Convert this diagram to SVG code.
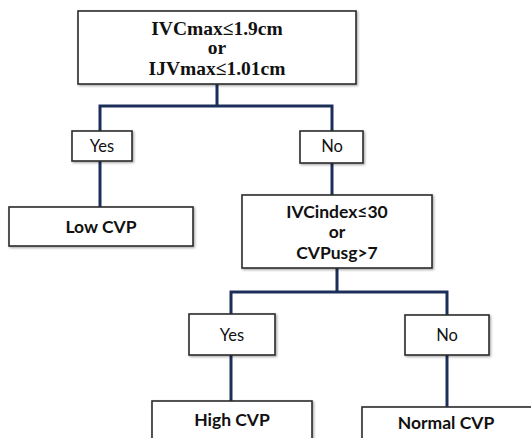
<svg xmlns="http://www.w3.org/2000/svg" width="531" height="438" viewBox="0 0 531 438">
<defs>
<filter id="sh" x="-10%" y="-10%" width="130%" height="140%"><feDropShadow dx="1.2" dy="1.2" stdDeviation="0.8" flood-color="#000" flood-opacity="0.35"/></filter>
<style>
.box{fill:#fff;stroke:#2b2b2b;stroke-width:1.6;filter:url(#sh)}
.ln{fill:none;stroke:#1c2f5a;stroke-width:3;stroke-linejoin:miter}
.ser{font-family:"Liberation Serif",serif;font-weight:bold;font-size:19.5px;fill:#111;text-anchor:middle}
.b{font-family:Lato,"Open Sans",sans-serif;font-weight:bold;font-size:17.5px;fill:#111;text-anchor:middle}
.r{font-family:Lato,"Open Sans",sans-serif;font-size:16.5px;fill:#111;text-anchor:middle}
</style>
</defs>
<rect width="531" height="438" fill="#fff"/>
<g id="connectors">
<path class="ln" d="M217 84V106M100 131V106H332V131"/>
<path class="ln" d="M100 161V207"/>
<path class="ln" d="M332 163V196"/>
<path class="ln" d="M337 268V292M231 314V292H447V315"/>
<path class="ln" d="M231 355V401"/>
<path class="ln" d="M447 355V407"/>
</g>
<g id="n1"><rect class="box" x="78" y="11" width="278" height="73"/>
<text class="ser" x="217" y="35">IVCmax≤1.9cm</text>
<text class="ser" x="217" y="54">or</text>
<text class="ser" x="217" y="75">IJVmax≤1.01cm</text></g>
<g id="yes1"><rect class="box" x="72" y="131" width="60" height="30"/><text class="r" x="102" y="152">Yes</text></g>
<g id="no1"><rect class="box" x="300" y="131" width="63" height="32"/><text class="r" x="332" y="152">No</text></g>
<g id="low"><rect class="box" x="9" y="207" width="184" height="39"/><text class="b" x="101" y="233">Low CVP</text></g>
<g id="n2"><rect class="box" x="242" y="195" width="190" height="73"/>
<text class="b" x="337" y="218">IVCindex≤30</text>
<text class="b" x="337" y="238">or</text>
<text class="b" x="337" y="259">CVPusg&gt;7</text></g>
<g id="yes2"><rect class="box" x="189" y="314" width="86" height="41"/><text class="r" x="232" y="341">Yes</text></g>
<g id="no2"><rect class="box" x="405" y="315" width="84" height="40"/><text class="r" x="447" y="341">No</text></g>
<g id="high"><rect class="box" x="152" y="401" width="160" height="45"/><text class="b" x="232" y="426">High CVP</text></g>
<g id="normal"><rect class="box" x="362" y="407" width="175" height="40"/><text class="b" x="446" y="429">Normal CVP</text></g>
</svg>
